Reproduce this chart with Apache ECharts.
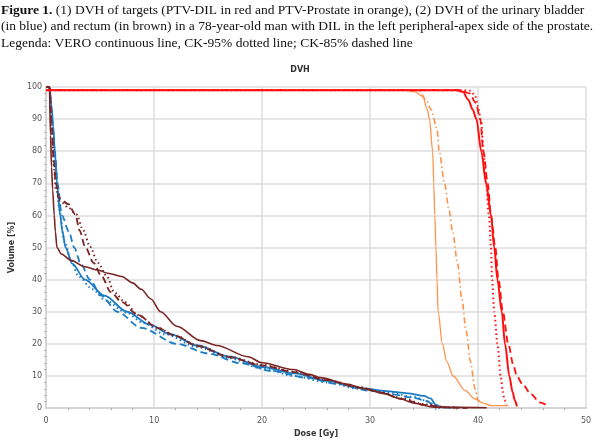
<!DOCTYPE html>
<html lang="en">
<head>
    <meta charset="UTF-8">
    <title>DVH</title>
    <script src="https://cdn.jsdelivr.net/npm/echarts@6/dist/echarts.min.js"></script>
    <style>
        html, body { margin: 0; padding: 0; background: #fff; }
        #main { width: 600px; height: 443px; }
    </style>
</head>
<body>
    <div id="main"></div>
    <script>
        // [dose Gy, volume %]
        var veroDIL = [[0,99],[38.0,99],[38.6,98.5],[39.1,96],[39.5,93],[39.85,90],[40.3,80],[40.75,70],[41.2,60],[41.5,50],[41.8,40],[42.2,30],[42.5,20],[42.9,10],[43.2,5],[43.4,2.5],[43.6,0.5]];
        var ck95DIL = [[0,99],[38.6,99],[39.3,98.8],[39.7,97.5],[40.0,94],[40.3,89],[40.5,80],[40.75,70],[41.0,60],[41.2,50],[41.3,40],[41.5,30],[41.8,20],[42.1,10],[42.3,5],[42.45,2.5],[42.6,1]];
        var ck85DIL = [[0,99],[38.4,99],[39.2,98],[39.8,95],[40.2,90],[40.5,80],[40.9,70],[41.2,60],[41.6,50],[41.9,40],[42.3,30],[42.8,20],[43.3,13],[43.6,10],[44.1,7.5],[44.9,4.4],[45.7,1.8],[46.4,0.8]];
        var veroProstate = [[0,99],[33.2,99],[34.2,98.5],[34.9,97],[35.3,93],[35.5,90],[35.8,80],[35.9,70],[36.0,60],[36.1,50],[36.2,40],[36.3,30],[36.7,20],[37.1,14.5],[37.7,10],[38.8,5.5],[39.7,2.9],[40.5,1.5],[41.2,0.8],[42.8,0.8]];
        var ckProstate = [[0,99],[34.5,99],[35.2,96],[35.65,93],[36.2,87],[36.4,80],[36.9,70],[37.3,62],[37.65,55],[38.1,45],[38.5,34],[38.9,24],[39.3,14.5],[39.7,6.4],[40.0,2.4],[40.3,1]];
        var veroBladder = [[0,100],[0.3,100],[0.5,94],[0.65,88],[0.8,80],[1.0,70],[1.3,60],[1.5,55],[1.8,50],[2.4,45],[3.6,40],[5.4,35],[7.5,30],[9.6,26],[11.5,23],[14,19.5],[17,16],[20,12.8],[23,10.8],[26,8.5],[29,6.3],[31.5,5.3],[33.5,4.6],[35,3.8],[35.6,3],[36.1,1],[36.6,0.3],[37.5,0]];
        var ck95Bladder = [[0,100],[0.3,100],[0.6,88],[0.9,75],[1.2,62],[1.7,52],[2.3,46],[3,41],[4.3,37],[5.5,33.5],[7.4,29.8],[9,26.5],[11,23],[14,19],[17,15.5],[20,12.3],[23,10],[26,8],[29,6],[31.5,5],[34,3.5],[35.5,2],[36,0.5],[36.5,0]];
        var ck85Bladder = [[0,100],[0.3,100],[0.55,90],[0.8,80],[1.05,70],[1.45,60],[2.1,55],[2.6,50],[3.2,45],[4.05,40],[5.1,35],[6.6,30],[8.8,25],[12.1,20],[15,17],[18,14],[21,11.5],[24,9.5],[27,7.5],[30,5.4],[32,4.3],[34,3.2],[35.3,2.2],[35.8,1],[36.2,0]];
        var veroRectum = [[0,100],[0.3,100],[0.4,85],[0.5,75],[0.6,68],[0.75,60],[0.85,55],[1.0,50],[1.4,48],[2.3,46],[3.6,44],[4.8,43],[5.7,42],[7.0,41],[8.0,39],[8.8,37],[9.7,34],[10.6,30],[12.1,25.5],[14.3,21],[15.8,19.5],[18.7,16],[20,14.1],[22.9,12],[24.4,10.5],[25.4,9.5],[27.8,7.5],[29.6,6],[31.3,4.5],[32.7,3],[34.1,1.5],[35.9,0.3],[40.8,0.1]];
        var ck95Rectum = [[0,100],[0.3,100],[0.5,88],[0.7,76],[0.9,68],[1.3,64.5],[2.1,62.3],[2.8,60.3],[3.45,55.3],[4.05,50.3],[4.8,45.2],[5.6,41.2],[6.3,36.1],[7.3,33],[8.5,29],[10.3,25],[12,22.5],[14,19.5],[17,16],[20,13.5],[23,11.3],[26,8.8],[29,6.5],[31,5],[33,3],[35,1.2],[37,0.3],[39,0]];
        var ck85Rectum = [[0,100],[0.3,100],[0.5,88],[0.7,77],[0.9,70],[1.16,65.5],[2.07,63.5],[2.7,60.3],[3.1,55.3],[3.6,50.3],[4.4,45.2],[5.1,41.2],[6.0,36.1],[7.0,33],[8.5,29],[10.3,25],[12,22.5],[14,19.3],[17,15.8],[20,13.3],[23,11.2],[26,8.7],[29,6.4],[31,4.8],[33,2.8],[35,1],[37,0.2],[39,0]];

        var caption = '{b|Figure 1.} (1) DVH of targets (PTV-DIL in red and PTV-Prostate in orange), (2) DVH of the urinary bladder\n' +
            '(in blue) and rectum (in brown) in a 78-year-old man with DIL in the left peripheral-apex side of the prostate.\n' +
            'Legenda: VERO continuous line, CK-95% dotted line; CK-85% dashed line';

        var RED = '#ff1010', ORANGE = '#ff9248', BLUE = '#1a7cc4', BROWN = '#7a2424';

        function curve(name, data, color, type, width, z) {
            return {
                name: name,
                type: 'line',
                data: data,
                symbol: 'none',
                smooth: 0.3,
                smoothMonotone: 'x',
                z: z,
                lineStyle: { color: color, width: width, type: type }
            };
        }

        var chart = echarts.init(document.getElementById('main'));
        var option = {
            animation: false,
            backgroundColor: '#fff',
            title: [
                {
                    text: caption,
                    left: 1,
                    top: 2,
                    padding: 0,
                    textStyle: {
                        fontFamily: 'Liberation Serif',
                        fontSize: 13.5,
                        fontWeight: 'normal',
                        color: '#111',
                        lineHeight: 16.6,
                        rich: {
                            b: { fontFamily: 'Liberation Serif', fontSize: 13.5, fontWeight: 'bold', color: '#111', lineHeight: 16.6 }
                        }
                    }
                },
                {
                    text: 'DVH',
                    left: 'center',
                    top: 66,
                    padding: 0,
                    textStyle: { fontFamily: 'DejaVu Sans', fontSize: 8, fontWeight: 'bold', color: '#333' }
                }
            ],
            grid: { left: 41, right: 14, top: 87, bottom: 29 },
            xAxis: {
                type: 'value',
                min: 0,
                max: 50,
                interval: 10,
                name: 'Dose [Gy]',
                nameLocation: 'middle',
                nameGap: 21,
                nameTextStyle: { fontFamily: 'DejaVu Sans', fontSize: 8, fontWeight: 'bold', color: '#333' },
                axisLine: { show: true, lineStyle: { color: '#d4d4d4', width: 2 } },
                axisTick: { show: false },
                minorTick: { show: true, splitNumber: 5, length: 2, lineStyle: { color: '#aaa' } },
                axisLabel: { margin: 9, fontFamily: 'DejaVu Sans', fontSize: 8, color: '#555' },
                splitLine: { show: true, lineStyle: { color: '#dcdcdc', width: 1.5 } }
            },
            yAxis: {
                type: 'value',
                min: 0,
                max: 100,
                interval: 10,
                name: 'Volume [%]',
                nameLocation: 'middle',
                nameGap: 23,
                nameTextStyle: { fontFamily: 'DejaVu Sans', fontSize: 8, fontWeight: 'bold', color: '#333' },
                axisLine: { show: true, lineStyle: { color: '#d4d4d4', width: 2 } },
                axisTick: { show: false },
                minorTick: { show: true, splitNumber: 5, length: 2, lineStyle: { color: '#aaa' } },
                axisLabel: { margin: 4, fontFamily: 'DejaVu Sans', fontSize: 8, color: '#555' },
                splitLine: { show: true, lineStyle: { color: '#dcdcdc', width: 1.5 } }
            },
            series: [
                curve('Bladder VERO', veroBladder, BLUE, 'solid', 1.8, 3),
                curve('Bladder CK-95%', ck95Bladder, BLUE, [1.5, 3], 2, 3),
                curve('Bladder CK-85%', ck85Bladder, BLUE, [7, 4], 1.8, 3),
                curve('Rectum VERO', veroRectum, BROWN, 'solid', 1.6, 4),
                curve('Rectum CK-95%', ck95Rectum, BROWN, [1.5, 3], 2, 4),
                curve('Rectum CK-85%', ck85Rectum, BROWN, [7, 4], 1.8, 4),
                curve('PTV-Prostate VERO', veroProstate, ORANGE, 'solid', 1.3, 5),
                curve('PTV-Prostate CK', ckProstate, ORANGE, [6, 3, 1.5, 3], 1.6, 5),
                curve('PTV-DIL VERO', veroDIL, RED, 'solid', 2, 6),
                curve('PTV-DIL CK-95%', ck95DIL, RED, [1.5, 3], 2, 6),
                curve('PTV-DIL CK-85%', ck85DIL, RED, [7, 4], 1.8, 6)
            ]
        };

        chart.setOption(option);
    </script>
</body>
</html>
